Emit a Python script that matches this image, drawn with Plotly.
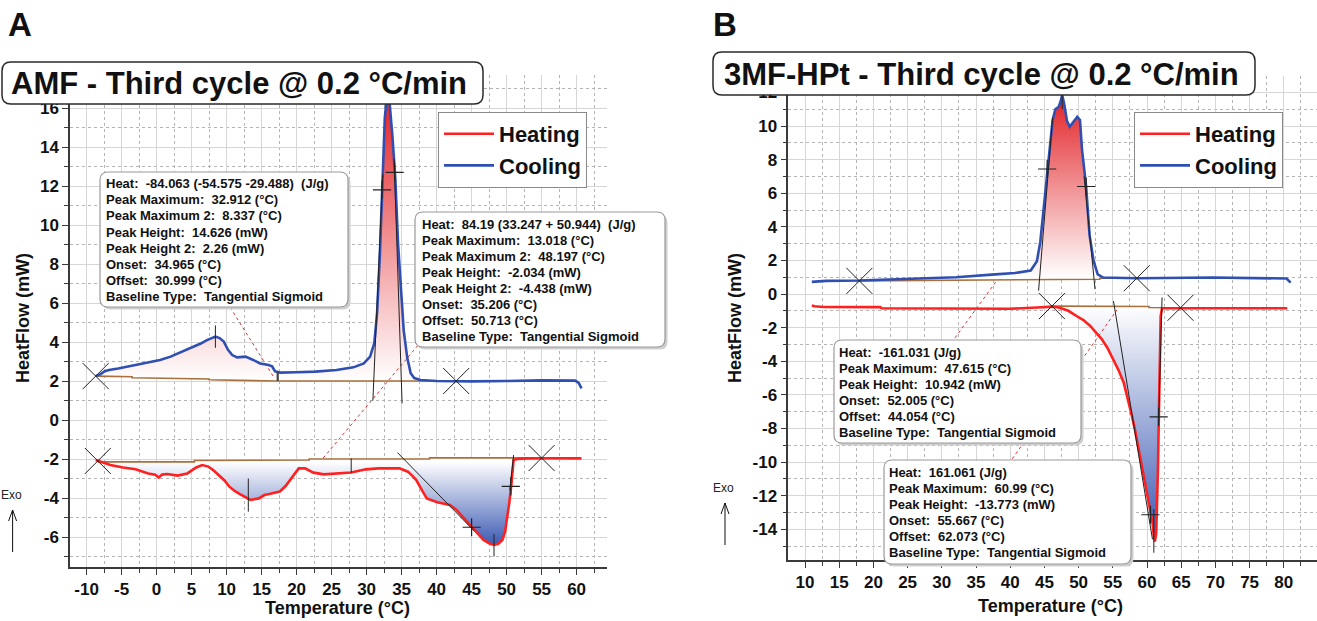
import numpy as np
import plotly.graph_objects as go

W, H = 1317, 621

# ================= Panel A : AMF =================
a_cool_x = [-8.7, -8.0, -7.4, -6.8, -5.5, -4.2, -2.5, -1.3, 0.5, 2.0, 3.7, 5.3, 6.3, 7.2, 7.9, 8.4, 9.0, 9.6, 10.2, 10.8, 11.5, 12.2, 12.7, 13.8, 14.8, 16.0, 16.5, 16.9, 17.6, 20.0, 22.7, 25.7, 28.1, 29.6, 30.5, 31.1, 31.5, 31.9, 32.2, 32.6, 32.9, 33.3, 33.7, 34.1, 34.5, 34.9, 35.3, 35.8, 36.3, 36.8, 37.7, 40.0, 45.0, 50.0, 55.0, 59.8, 60.3, 60.7]
a_cool_y = [2.25, 2.35, 2.5, 2.56, 2.64, 2.73, 2.85, 2.94, 3.08, 3.25, 3.5, 3.76, 3.92, 4.10, 4.22, 4.28, 4.2, 4.02, 3.6, 3.33, 3.21, 3.24, 3.25, 3.08, 2.9, 2.82, 2.75, 2.5, 2.43, 2.45, 2.48, 2.56, 2.7, 2.9, 3.25, 3.94, 5.5, 8.5, 11.8, 15.5, 16.6, 16.2, 14.5, 12.4, 9.0, 6.5, 4.6, 3.2, 2.4, 2.15, 2.05, 2.0, 1.98, 2.0, 2.03, 2.02, 1.9, 1.62]
a_cool_base_x = [-8.7, -3.5, -3.5, 2.5, 2.5, 7.5, 7.5, 17.0, 17.0, 42.8]
a_cool_base_y = [2.25, 2.22, 2.17, 2.15, 2.12, 2.1, 2.06, 2.03, 2.0, 2.0]

a_heat_x = [-8.7, -7.5, -6.6, -4.8, -3.0, -1.2, -0.2, 0.3, 0.8, 1.5, 3.0, 4.4, 5.0, 5.6, 6.5, 7.4, 8.2, 8.9, 9.7, 10.4, 11.2, 11.9, 12.6, 13.4, 14.6, 15.4, 16.1, 17.6, 18.4, 19.1, 19.8, 20.3, 21.2, 22.4, 23.9, 25.7, 27.8, 29.9, 31.7, 34.7, 35.9, 36.5, 37.1, 37.9, 38.6, 40.1, 41.9, 42.8, 43.7, 44.5, 45.2, 46.0, 46.7, 47.5, 48.2, 48.8, 49.4, 49.8, 50.1, 50.4, 50.7, 51.0, 51.5, 53.0, 56.0, 60.7]
a_heat_y = [-2.05, -2.2, -2.31, -2.44, -2.53, -2.74, -2.8, -2.95, -2.8, -2.77, -2.85, -2.74, -2.6, -2.45, -2.31, -2.39, -2.6, -2.82, -3.1, -3.42, -3.65, -3.8, -3.95, -4.1, -4.02, -3.85, -3.8, -3.67, -3.4, -3.08, -2.75, -2.48, -2.48, -2.7, -2.79, -2.74, -2.69, -2.53, -2.48, -2.48, -2.65, -2.85, -3.08, -3.6, -4.02, -4.22, -4.36, -4.6, -4.96, -5.25, -5.56, -5.9, -6.15, -6.32, -6.41, -6.35, -6.15, -5.7, -5.0, -4.2, -3.25, -2.05, -2.0, -1.97, -1.96, -1.97]
a_heat_base_x = [-8.4, 5.4, 5.4, 21.8, 21.8, 39.0, 39.0, 55.0]
a_heat_base_y = [-2.15, -2.15, -2.08, -2.05, -2.0, -2.0, -1.94, -1.94]

a_limit_x = [-8.7, 42.8, -8.4, 55.0]
a_limit_y = [2.25, 2.0, -2.1, -1.95]
a_infl_x = [32.2, 34.0, 45.0, 50.6]
a_infl_y = [11.8, 12.7, -5.5, -3.4]
# analysis segments: [x0, x1], [y0, y1]
a_seg_x = [[8.4, 8.4], [32.3, 30.9], [33.93, 35.07], [13.1, 13.1], [27.8, 27.8], [48.2, 48.2], [34.4, 45.4], [51.0, 50.45]]
a_seg_y = [[3.7, 4.85], [12.6, 1.0], [13.4, 0.85], [-3.0, -4.7], [-1.97, -2.7], [-5.85, -7.0], [-1.67, -5.7], [-1.8, -3.6]]
a_step_x = [17.3, 17.3]
a_step_y = [2.0, 2.5]
a_ptr_x = [[9.6, 16.7], [23.8, 37.5]]
a_ptr_y = [[6.3, 2.22], [-1.95, 3.9]]

a_xticks = [-10, -5, 0, 5, 10, 15, 20, 25, 30, 35, 40, 45, 50, 55, 60]
a_yticks = [-6, -4, -2, 0, 2, 4, 6, 8, 10, 12, 14, 16]

a_box1 = ["Heat:  -84.063 (-54.575 -29.488)  (J/g)", "Peak Maximum:  32.912 (°C)",
          "Peak Maximum 2:  8.337 (°C)", "Peak Height:  14.626 (mW)", "Peak Height 2:  2.26 (mW)",
          "Onset:  34.965 (°C)", "Offset:  30.999 (°C)", "Baseline Type:  Tangential Sigmoid"]
a_box2 = ["Heat:  84.19 (33.247 + 50.944)  (J/g)", "Peak Maximum:  13.018 (°C)",
          "Peak Maximum 2:  48.197 (°C)", "Peak Height:  -2.034 (mW)", "Peak Height 2:  -4.438 (mW)",
          "Onset:  35.206 (°C)", "Offset:  50.713 (°C)", "Baseline Type:  Tangential Sigmoid"]

# ================= Panel B : 3MF-HPt =================
b_cool_x = [11.0, 11.6, 13.1, 17.95, 26.3, 32.1, 37.8, 40.7, 43.0, 43.9, 44.4, 45.0, 45.6, 46.2, 46.6, 47.1, 47.4, 47.6, 47.9, 48.3, 48.7, 49.3, 49.8, 50.2, 50.5, 51.1, 51.6, 52.2, 52.8, 53.6, 58.5, 69.5, 80.4, 81.0]
b_cool_y = [0.72, 0.74, 0.78, 0.8, 0.92, 1.0, 1.17, 1.25, 1.4, 1.95, 3.1, 5.66, 8.0, 10.35, 11.0, 11.15, 11.5, 11.85, 11.3, 10.3, 9.96, 10.25, 10.55, 10.35, 8.6, 6.4, 3.5, 1.95, 1.17, 0.98, 0.94, 0.98, 0.92, 0.68]
b_cool_base_x = [17.95, 30.0, 30.0, 44.0, 44.0, 53.1, 53.1, 58.5]
b_cool_base_y = [0.78, 0.8, 0.82, 0.85, 0.86, 0.88, 0.94, 0.94]

b_heat_x = [11.0, 11.4, 12.7, 21.0, 21.2, 30.0, 40.0, 44.0, 46.1, 47.1, 48.5, 49.7, 50.7, 51.7, 52.6, 53.4, 54.2, 55.1, 55.8, 56.6, 57.2, 57.8, 58.3, 58.8, 59.3, 59.7, 60.1, 60.5, 60.8, 61.0, 61.15, 61.35, 61.5, 61.6, 61.7, 61.8, 61.9, 62.0, 62.2, 63.0, 65.0, 70.0, 75.0, 80.5]
b_heat_y = [-0.68, -0.73, -0.77, -0.78, -0.85, -0.87, -0.88, -0.8, -0.75, -0.8, -1.0, -1.31, -1.55, -1.9, -2.3, -2.7, -3.2, -3.89, -4.5, -5.28, -6.2, -7.27, -8.2, -9.26, -10.3, -11.24, -12.0, -12.83, -13.6, -14.43, -14.73, -14.23, -12.5, -10.45, -8.0, -4.89, -2.5, -1.31, -0.85, -0.85, -0.82, -0.85, -0.85, -0.85]
b_heat_base_x = [46.1, 60.3, 60.3, 64.9]
b_heat_base_y = [-0.72, -0.74, -0.8, -0.82]

b_limit_x = [17.95, 58.5, 46.1, 64.9]
b_limit_y = [0.78, 0.94, -0.72, -0.82]
b_infl_x = [45.4, 51.1, 60.5, 61.7]
b_infl_y = [7.44, 6.4, -13.14, -7.31]
b_seg_x = [[47.6, 47.6], [46.2, 44.15], [50.8, 52.4], [55.1, 60.8], [62.2, 61.7], [61.0, 61.0]]
b_seg_y = [[11.0, 12.3], [10.5, 0.2], [7.0, 0.29], [-0.42, -14.6], [-0.21, -7.67], [-12.8, -15.4]]
b_ptr_x = [[31.4, 38.1], [39.8, 55.6]]
b_ptr_y = [[-2.9, 0.83], [-10.1, -0.95]]

b_xticks = [10, 15, 20, 25, 30, 35, 40, 45, 50, 55, 60, 65, 70, 75, 80]
b_yticks = [-14, -12, -10, -8, -6, -4, -2, 0, 2, 4, 6, 8, 10, 12]

b_box1 = ["Heat:  -161.031 (J/g)", "Peak Maximum:  47.615 (°C)", "Peak Height:  10.942 (mW)",
          "Onset:  52.005 (°C)", "Offset:  44.054 (°C)", "Baseline Type:  Tangential Sigmoid"]
b_box2 = ["Heat:  161.061 (J/g)", "Peak Maximum:  60.99 (°C)", "Peak Height:  -13.773 (mW)",
          "Onset:  55.667 (°C)", "Offset:  62.073 (°C)", "Baseline Type:  Tangential Sigmoid"]

titles = ["AMF - Third cycle @ 0.2 °C/min", "3MF-HPt - Third cycle @ 0.2 °C/min"]
panel_letters = ["A", "B"]
series_names = ["Heating", "Cooling"]

# ================= styling =================
RED = "#ff2020"
BLUE = "#2f4fb2"
BROWN = "#a8703f"
FONT = "Liberation Sans, Arial, sans-serif"


def px(xp):
    return xp / W


def py(yp):
    return 1 - yp / H


def fill_poly(cx, cy, bx, by):
    cx = np.asarray(cx, float); cy = np.asarray(cy, float)
    x0, x1 = bx[0], bx[-1]
    m = (cx > x0) & (cx < x1)
    xs = [x0] + list(cx[m]) + [x1]
    ys = [float(np.interp(x0, cx, cy))] + list(cy[m]) + [float(np.interp(x1, cx, cy))]
    return xs + list(bx[::-1]), ys + list(by[::-1])


def segs(sx, sy):
    xs, ys = [], []
    for a, b in zip(sx, sy):
        xs += a + [None]
        ys += b + [None]
    return xs, ys


fig = go.Figure()


def add_panel(xa, ya, cx, cy, cbx, cby, hx, hy, hbx, hby, lim_x, lim_y, inf_x, inf_y,
              seg_x, seg_y, ptr_x, ptr_y, cool_top, heat_bot, legend):
    fx, fy = fill_poly(cx, cy, cbx, cby)
    fig.add_trace(go.Scatter(x=fx, y=fy, xaxis=xa, yaxis=ya, mode="none", fill="toself",
                             fillgradient=dict(type="vertical", start=cby[-1], stop=cool_top,
                                               colorscale=[[0, "rgba(255,255,255,1)"], [1, "rgb(226,34,38)"]]),
                             showlegend=False, hoverinfo="skip"))
    fx, fy = fill_poly(hx, hy, hbx, hby)
    fig.add_trace(go.Scatter(x=fx, y=fy, xaxis=xa, yaxis=ya, mode="none", fill="toself",
                             fillgradient=dict(type="vertical", start=heat_bot, stop=hby[0],
                                               colorscale=[[0, "rgb(58,88,178)"], [1, "rgba(255,255,255,1)"]]),
                             showlegend=False, hoverinfo="skip"))
    qx, qy = segs(ptr_x, ptr_y)
    fig.add_trace(go.Scatter(x=qx, y=qy, xaxis=xa, yaxis=ya, mode="lines",
                             line=dict(color="#e03030", width=1, dash="dot"), showlegend=False, hoverinfo="skip"))
    for bx, by in ((cbx, cby), (hbx, hby)):
        fig.add_trace(go.Scatter(x=bx, y=by, xaxis=xa, yaxis=ya, mode="lines",
                                 line=dict(color=BROWN, width=1.6), showlegend=False, hoverinfo="skip"))
    fig.add_trace(go.Scatter(x=hx, y=hy, xaxis=xa, yaxis=ya, mode="lines", name=series_names[0],
                             line=dict(color=RED, width=2.6), legend=legend, legendrank=1))
    fig.add_trace(go.Scatter(x=cx, y=cy, xaxis=xa, yaxis=ya, mode="lines", name=series_names[1],
                             line=dict(color=BLUE, width=2.6), legend=legend, legendrank=2))
    sx, sy = segs(seg_x, seg_y)
    fig.add_trace(go.Scatter(x=sx, y=sy, xaxis=xa, yaxis=ya, mode="lines",
                             line=dict(color="#222222", width=1), showlegend=False, hoverinfo="skip"))
    fig.add_trace(go.Scatter(x=lim_x, y=lim_y, xaxis=xa, yaxis=ya, mode="markers",
                             marker=dict(symbol="x-thin", size=26, line=dict(color="#222222", width=1)),
                             showlegend=False, hoverinfo="skip"))
    fig.add_trace(go.Scatter(x=inf_x, y=inf_y, xaxis=xa, yaxis=ya, mode="markers",
                             marker=dict(symbol="cross-thin", size=13, line=dict(color="#222222", width=1.2)),
                             showlegend=False, hoverinfo="skip"))


add_panel("x", "y", a_cool_x, a_cool_y, a_cool_base_x, a_cool_base_y, a_heat_x, a_heat_y,
          a_heat_base_x, a_heat_base_y, a_limit_x, a_limit_y, a_infl_x, a_infl_y,
          a_seg_x, a_seg_y, a_ptr_x, a_ptr_y, 16.6, -6.45, "legend")
fig.add_trace(go.Scatter(x=a_step_x, y=a_step_y, mode="lines", line=dict(color="#444444", width=2.2),
                         showlegend=False, hoverinfo="skip"))
add_panel("x2", "y2", b_cool_x, b_cool_y, b_cool_base_x, b_cool_base_y, b_heat_x, b_heat_y,
          b_heat_base_x, b_heat_base_y, b_limit_x, b_limit_y, b_infl_x, b_infl_y,
          b_seg_x, b_seg_y, b_ptr_x, b_ptr_y, 11.85, -14.73, "legend2")


def axis(domain, rng, ticks, mdtick, anchor):
    return dict(domain=domain, range=rng, tickmode="array", tickvals=ticks,
                ticktext=[str(v) for v in ticks], anchor=anchor,
                showgrid=True, gridcolor="#d6d6d6", gridwidth=1.4, zeroline=False,
                showline=True, linecolor="#3a3a3a", linewidth=1.5,
                ticks="outside", ticklen=6, tickcolor="#3a3a3a", tickwidth=1,
                tickfont=dict(family=FONT, size=17, color="#111111", weight="bold"),
                minor=dict(tickmode="linear", dtick=mdtick, tick0=0, showgrid=True, gridcolor="#b4b4b4",
                           griddash="dot", gridwidth=1, ticks="outside", ticklen=4, tickcolor="#3a3a3a"))


LEG_FONT = dict(family=FONT, size=22, color="#111", weight="bold")
fig.update_layout(
    width=W, height=H, margin=dict(l=0, r=0, t=0, b=0),
    paper_bgcolor="white", plot_bgcolor="white",
    xaxis=axis([px(70), px(607)], [(70 - 156.6) / 7.0, (607 - 156.6) / 7.0], a_xticks, 2.5, "y"),
    yaxis=axis([py(567), py(75)], [(420 - 567) / 19.5, (420 - 75) / 19.5], a_yticks, 1, "x"),
    xaxis2=axis([px(788.3), 1.0], [10 + (788.3 - 805) / 6.84, 10 + (1317 - 805) / 6.84], b_xticks, 2.5, "y2"),
    yaxis2=axis([py(560), py(76)], [(294 - 560) / 16.8, (294 - 76) / 16.8], b_yticks, 1, "x2"),
    legend=dict(x=px(438), y=py(112), xanchor="left", yanchor="top", bgcolor="white",
                bordercolor="#8a8a8a", borderwidth=1, font=LEG_FONT, tracegroupgap=0, itemwidth=50),
    legend2=dict(x=px(1134), y=py(112), xanchor="left", yanchor="top", bgcolor="white",
                 bordercolor="#8a8a8a", borderwidth=1, font=LEG_FONT, tracegroupgap=0, itemwidth=50),
    showlegend=True,
)


def rrect(x0, y0, x1, y1, r):
    X = lambda v: f"{px(v):.6f}"
    Y = lambda v: f"{py(v):.6f}"
    return (f"M {X(x0 + r)},{Y(y0)} L {X(x1 - r)},{Y(y0)} Q {X(x1)},{Y(y0)} {X(x1)},{Y(y0 + r)} "
            f"L {X(x1)},{Y(y1 - r)} Q {X(x1)},{Y(y1)} {X(x1 - r)},{Y(y1)} "
            f"L {X(x0 + r)},{Y(y1)} Q {X(x0)},{Y(y1)} {X(x0)},{Y(y1 - r)} "
            f"L {X(x0)},{Y(y0 + r)} Q {X(x0)},{Y(y0)} {X(x0 + r)},{Y(y0)} Z")


shapes = []
annotations = []


def info_box(x0, y0, x1, y1, lines, tx, ty0, dy):
    shapes.append(dict(type="path", path=rrect(x0 + 2.5, y0 + 2.5, x1 + 2.5, y1 + 2.5, 8), xref="paper", yref="paper",
                       fillcolor="#cfcfcf", line=dict(width=0), layer="above"))
    shapes.append(dict(type="path", path=rrect(x0, y0, x1, y1, 8), xref="paper", yref="paper",
                       fillcolor="white", line=dict(color="#9a9a9a", width=1.2), layer="above"))
    for i, t in enumerate(lines):
        annotations.append(dict(x=px(tx), y=py(ty0 + i * dy), xref="paper", yref="paper",
                                xanchor="left", yanchor="middle", showarrow=False,
                                text=t.replace("  ", "&nbsp; "),
                                font=dict(family=FONT, size=13, color="#111", weight="bold")))


info_box(100, 172, 348, 307, a_box1, 104, 183.5, 16.2)
info_box(415, 212, 665, 347, a_box2, 420, 224, 16.1)
info_box(834, 340, 1081, 443, b_box1, 837, 352, 16.0)
info_box(884, 460, 1131, 564, b_box2, 887, 472, 16.05)

for (x0, y0, x1, y1), t, tx in (((2, 62, 483, 104), titles[0], 9), ((713, 52, 1255, 95), titles[1], 722)):
    shapes.append(dict(type="path", path=rrect(x0, y0, x1, y1, 9), xref="paper", yref="paper",
                       fillcolor="white", line=dict(color="#2a2a2a", width=1.5), layer="above"))
    annotations.append(dict(x=px(tx), y=py((y0 + y1) / 2 + 1), xref="paper", yref="paper", xanchor="left",
                            yanchor="middle", showarrow=False, text=t,
                            font=dict(family=FONT, size=31, color="#111", weight="bold")))

for (cx_, cy_), t in zip(((20, 25), (725, 25)), panel_letters):
    annotations.append(dict(x=px(cx_), y=py(cy_), xref="paper", yref="paper", showarrow=False, text=t,
                            xanchor="center", yanchor="middle",
                            font=dict(family=FONT, size=33, color="#111", weight="bold")))

for (cx_, cy_) in ((337.7, 608), (1050, 606)):
    annotations.append(dict(x=px(cx_), y=py(cy_), xref="paper", yref="paper", showarrow=False,
                            text="Temperature (°C)", xanchor="center", yanchor="middle",
                            font=dict(family=FONT, size=18, color="#111", weight="bold")))
for (cx_, cy_) in ((23, 318), (735, 318)):
    annotations.append(dict(x=px(cx_), y=py(cy_), xref="paper", yref="paper", showarrow=False,
                            text="HeatFlow (mW)", textangle=-90, xanchor="center", yanchor="middle",
                            font=dict(family=FONT, size=18, color="#111", weight="bold")))

for (ex, ey, ax_, top, bot) in ((11, 495, 12.6, 510, 552), (723, 488, 725, 503, 545)):
    annotations.append(dict(x=px(ex), y=py(ey), xref="paper", yref="paper", showarrow=False, text="Exo",
                            xanchor="center", yanchor="middle", font=dict(family=FONT, size=12, color="#222")))
    for (xa0, ya0, xa1, ya1) in ((ax_, top, ax_, bot), (ax_, top, ax_ - 4, top + 11), (ax_, top, ax_ + 4, top + 11)):
        shapes.append(dict(type="line", xref="paper", yref="paper", x0=px(xa0), y0=py(ya0), x1=px(xa1), y1=py(ya1),
                           line=dict(color="#111", width=1), layer="above"))

fig.update_layout(shapes=shapes, annotations=annotations)
fig.write_html("out.html")
